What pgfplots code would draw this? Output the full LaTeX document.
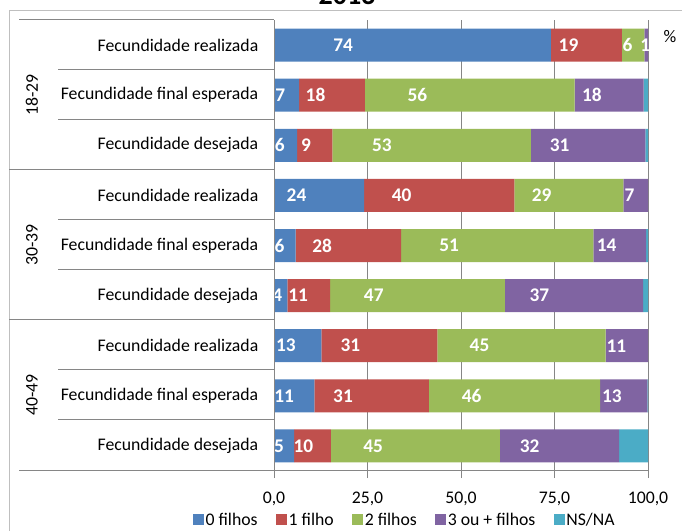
\documentclass[border=0pt]{standalone}
\usepackage{pgfplots}
\pgfplotsset{compat=1.18}
\usepackage{pgfplotstable}
\usepackage{fontspec}
\setmainfont{Carlito}

\definecolor{c0}{HTML}{4F81BD}
\definecolor{c1}{HTML}{C0504D}
\definecolor{c2}{HTML}{9BBB59}
\definecolor{c3}{HTML}{8064A2}
\definecolor{c4}{HTML}{4BACC6}
\definecolor{gridgrey}{HTML}{868686}
\definecolor{framegrey}{HTML}{BFBFBF}

% row: 1 = top bar; a0..a3 = 0,1,2,3+ filhos; ns = NS/NA
\pgfplotstableread{
row a0 a1 a2 a3 ns
1 74.0 19.0 6.0 1.0 0.0
2 6.7 17.6 56.1 18.4 1.2
3 6.2 9.4 53.1 30.6 0.7
4 24.1 40.2 29.1 6.6 0.0
5 5.8 28.2 51.4 14.1 0.5
6 3.6 11.4 46.7 37.0 1.3
7 12.7 31.0 45.0 11.3 0.0
8 10.8 30.6 45.8 12.6 0.2
9 5.4 9.8 45.2 31.9 7.7
}\fec

\pgfplotsset{
  sq/.style={legend image code/.code={\fill[##1] (0pt,-4pt) rectangle (8.25pt,4.25pt);}},
  lbl/.style={
    nodes near coords={\pgfmathprintnumber[fixed,precision=0]{\pgfplotspointmeta}},
    point meta={\thisrow{#1}},
    visualization depends on={\thisrow{#1} \as \segw},
    every node near coord/.append style={anchor=center, xshift=-0.70125pt*\segw,
      text=white, font=\bfseries\fontsize{14.5}{16}\selectfont}},
}

\newcommand{\fs}{\fontsize{13.3}{16}\selectfont}

\begin{document}
\begin{tikzpicture}[x=0.75pt,y=0.75pt]
\begin{axis}[
  at={(205.5pt,45pt)}, anchor=south west,
  scale only axis, width=280.5pt, height=338.25pt,
  xbar stacked, bar width=24.75pt,
  xmin=0, xmax=100, ymin=0.5, ymax=9.5, y dir=reverse,
  axis line style={draw=none},
  xtick={0,25,50,75,100},
  xticklabel style={yshift=-6.75pt, /pgf/number format/.cd, fixed, fixed zerofill, precision=1, use comma},
  /pgf/number format/assume math mode=true,
  ytick={1,...,9},
  yticklabels={Fecundidade realizada, Fecundidade final esperada, Fecundidade desejada,
               Fecundidade realizada, Fecundidade final esperada, Fecundidade desejada,
               Fecundidade realizada, Fecundidade final esperada, Fecundidade desejada},
  ytick style={draw=none},
  xtick style={draw=gridgrey, line width=0.75pt},
  tick pos=left, tick align=outside, major tick length=5.25pt,
  xmajorgrids, grid style={draw=gridgrey, line width=0.75pt},
  ticklabel style={font=\fs, text=black},
  yticklabel style={xshift=-3pt},
  clip=false,
  legend columns=5,
  legend style={at={(-0.2166,-0.109)}, anchor=west, draw=none, fill=none,
    inner sep=0pt, font=\fs,
    nodes={inner sep=1pt},
    /tikz/every even column/.append style={column sep=13pt}},
]
\addplot[fill=c0, draw=none, sq, lbl=a0] table[x=a0, y=row] {\fec};
\addplot[fill=c1, draw=none, sq, lbl=a1] table[x=a1, y=row] {\fec};
\addplot[fill=c2, draw=none, sq, lbl=a2] table[x=a2, y=row] {\fec};
\addplot[fill=c3, draw=none, sq, lbl=a3] table[x=a3, y=row] {\fec};
\addplot[fill=c4, draw=none, sq] table[x=ns, y=row] {\fec};
\legend{0 filhos, 1 filho, 2 filhos, 3 ou + filhos, NS/NA}
\end{axis}

% frame and separators
\draw[framegrey, line width=0.75pt] (9,0) -- (9,520) -- (682,520);
\draw[gridgrey, line width=0.75pt] (19,511) -- (274,511);
\foreach \yy in {461,411,311,261,161,111}
  \draw[gridgrey, line width=0.75pt] (58,\yy) -- (274,\yy);
\foreach \yy in {361,211}
  \draw[gridgrey, line width=0.75pt] (9,\yy) -- (274,\yy);
\draw[gridgrey, line width=0.75pt] (19,60) -- (648,60);
\draw[gridgrey, line width=0.75pt] (274,60) -- (274,511);
\foreach \yy in {511,461,411,361,311,261,211,161,111}
  \draw[gridgrey, line width=0.75pt] (270,\yy) -- (274,\yy);

% group labels
\node[rotate=90, font=\fs] at (32,436) {18-29};
\node[rotate=90, font=\fs] at (32,286) {30-39};
\node[rotate=90, font=\fs] at (32,136) {40-49};

\node[font=\fs] at (670,494) {\%};
\node[font=\bfseries\fontsize{21}{25}\selectfont, anchor=base] at (347,526.5) {2013};

\pgfresetboundingbox
\useasboundingbox (0,0) rectangle (682,531);
\end{tikzpicture}
\end{document}
